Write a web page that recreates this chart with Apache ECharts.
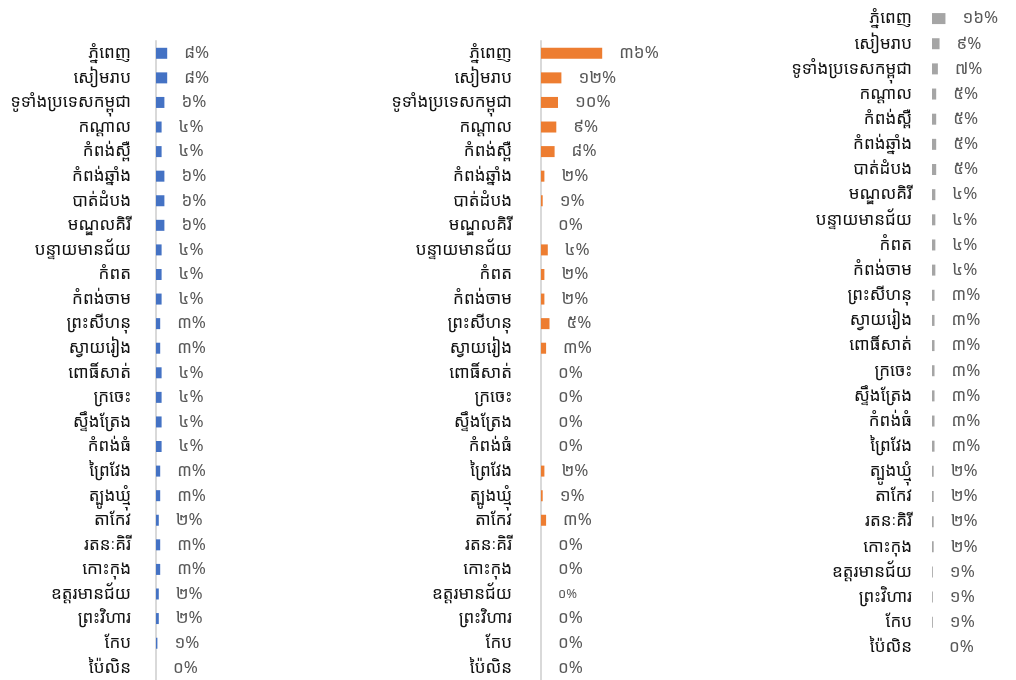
<!DOCTYPE html>
<html>
<head>
<meta charset="utf-8">
<script src="https://cdn.jsdelivr.net/npm/echarts@6/dist/echarts.min.js"></script>
<style>
  html, body { margin: 0; padding: 0; background: #ffffff; }
  #chart { width: 1016px; height: 680px; }
</style>
</head>
<body>
<div id="chart"></div>
<script>
// Provinces, listed top to bottom
const provinces = [
  'ភ្នំពេញ', 'សៀមរាប', 'ទូទាំងប្រទេសកម្ពុជា', 'កណ្តាល', 'កំពង់ស្ពឺ',
  'កំពង់ឆ្នាំង', 'បាត់ដំបង', 'មណ្ឌលគិរី', 'បន្ទាយមានជ័យ', 'កំពត',
  'កំពង់ចាម', 'ព្រះសីហនុ', 'ស្វាយរៀង', 'ពោធិ៍សាត់', 'ក្រចេះ',
  'ស្ទឹងត្រែង', 'កំពង់ធំ', 'ព្រៃវែង', 'ត្បូងឃ្មុំ', 'តាកែវ',
  'រតនៈគិរី', 'កោះកុង', 'ឧត្តរមានជ័យ', 'ព្រះវិហារ', 'កែប', 'ប៉ៃលិន'
];

// Percent shares, one list per panel
const shareBlue = [8, 8, 6, 4, 4, 6, 6, 6, 4, 4, 4, 3, 3, 4, 4, 4, 4, 3, 3, 2, 3, 3, 2, 2, 1, 0];
const shareOrange = [36, 12, 10, 9, 8, 2, 1, 0, 4, 2, 2, 5, 3, 0, 0, 0, 0, 2, 1, 3, 0, 0, 0, 0, 0, 0];
const shareGray = [16, 9, 7, 5, 5, 5, 5, 4, 4, 4, 4, 3, 3, 3, 3, 3, 3, 3, 2, 2, 2, 2, 1, 1, 1, 0];

const KHMER_DIGITS = ['០', '១', '២', '៣', '៤', '៥', '៦', '៧', '៨', '៩'];
const toKhmer = n => String(n).replace(/[0-9]/g, d => KHMER_DIGITS[+d]);

const FONT = "'Noto Sans Khmer', 'Khmer OS System', 'Khmer UI', 'Leelawadee UI', 'Noto Sans', sans-serif";

const panels = [
  { values: shareBlue,   color: '#4472C4', left: 156, top: 41,  height: 643, width: 140, margin: 25, axisLine: true,  small: [] },
  { values: shareOrange, color: '#ED7D31', left: 541, top: 41,  height: 645, width: 170, margin: 29, axisLine: true,  small: [22] },
  { values: shareGray,   color: '#A5A5A5', left: 932, top: 6,   height: 654, width: 165, margin: 20, axisLine: false, small: [] }
];

const grid = [], xAxis = [], yAxis = [], series = [];
panels.forEach((p, i) => {
  grid.push({ left: p.left, top: p.top, width: p.width, height: p.height, containLabel: false });
  xAxis.push({ gridIndex: i, type: 'value', min: 0, max: 100, show: false });
  yAxis.push({
    gridIndex: i, type: 'category', inverse: true, data: provinces,
    axisTick: { show: false },
    axisLine: { show: p.axisLine, lineStyle: { color: '#d9d9d9', width: 2 } },
    axisLabel: { margin: p.margin, color: '#111111', fontSize: 17, fontFamily: FONT }
  });
  series.push({
    type: 'bar', xAxisIndex: i, yAxisIndex: i,
    barWidth: 11,
    itemStyle: { color: p.color },
    label: {
      show: true, position: 'right', distance: 17,
      color: '#595959', fontSize: 17, fontFamily: FONT,
      formatter: d => toKhmer(d.value) + '%'
    },
    data: p.values.map((v, k) => p.small.includes(k)
      ? { value: v, label: { fontSize: 13 } }
      : v)
  });
});

const chart = echarts.init(document.getElementById('chart'), null, { renderer: 'canvas' });
chart.setOption({
  animation: false,
  backgroundColor: '#ffffff',
  grid, xAxis, yAxis, series
});
</script>
</body>
</html>
